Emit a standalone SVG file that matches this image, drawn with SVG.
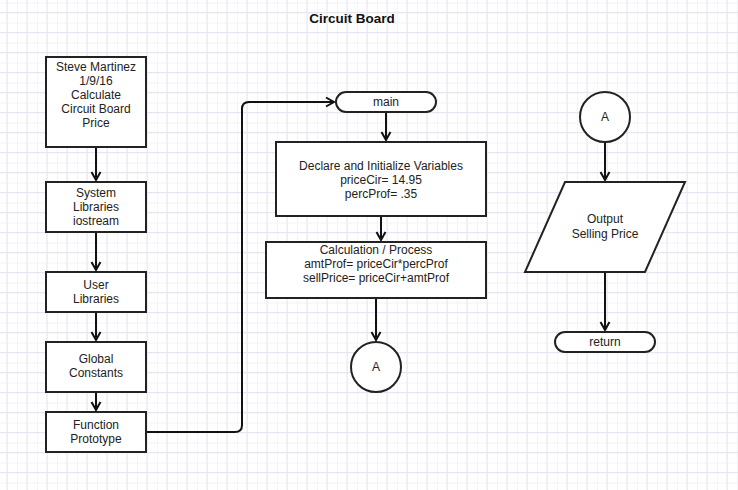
<svg xmlns="http://www.w3.org/2000/svg" width="738" height="490" viewBox="0 0 738 490">
<defs>
<pattern id="minor" width="10" height="10" patternUnits="userSpaceOnUse" x="7" y="2.5">
<path d="M0 0.5H10M0.5 0V10" fill="none" stroke="#f3f3fa" stroke-width="1"/>
</pattern>
<pattern id="major" width="20" height="20" patternUnits="userSpaceOnUse" x="6.5" y="12">
<path d="M0 0.5H20M0.5 0V20" fill="none" stroke="#e6e6f2" stroke-width="1"/>
</pattern>
<marker id="arr" viewBox="0 0 12 12" refX="10" refY="6" markerWidth="12" markerHeight="12" markerUnits="userSpaceOnUse" orient="auto">
<path d="M2 1.5L10 6L2 10.5" fill="none" stroke="#111" stroke-width="2"/>
</marker>
</defs>
<style>
.n{fill:#fff;stroke:#222;stroke-width:2}
.t{font-family:"Liberation Sans",Arial,sans-serif;font-size:12px;fill:#222;text-anchor:middle;dominant-baseline:central}
.c{fill:none;stroke:#111;stroke-width:2}
</style>
<rect width="738" height="490" fill="#fff"/>
<rect width="738" height="490" fill="url(#minor)"/>
<rect width="738" height="490" fill="url(#major)"/>
<text x="352" y="18" class="t" style="font-weight:bold;font-size:13.5px;fill:#111">Circuit Board</text>
<g id="connectors">
<path class="c" d="M96 147V180" marker-end="url(#arr)"/>
<path class="c" d="M96 232V270" marker-end="url(#arr)"/>
<path class="c" d="M96 312V340" marker-end="url(#arr)"/>
<path class="c" d="M96 392V410" marker-end="url(#arr)"/>
<path class="c" d="M146 432H235Q242 432 242 425V109Q242 102 249 102H334" marker-end="url(#arr)"/>
<path class="c" d="M386 112V140" marker-end="url(#arr)"/>
<path class="c" d="M381 216V240" marker-end="url(#arr)"/>
<path class="c" d="M376 298V340" marker-end="url(#arr)"/>
<path class="c" d="M605 142V180" marker-end="url(#arr)"/>
<path class="c" d="M605 272V330" marker-end="url(#arr)"/>
</g>
<g id="header">
<rect class="n" x="46" y="57" width="100" height="90"/>
<text class="t" x="96" y="67">Steve Martinez</text>
<text class="t" x="96" y="81">1/9/16</text>
<text class="t" x="96" y="95">Calculate</text>
<text class="t" x="96" y="109">Circuit Board</text>
<text class="t" x="96" y="123">Price</text>
</g>
<g id="syslib">
<rect class="n" x="46" y="182" width="100" height="50"/>
<text class="t" x="96" y="193">System</text>
<text class="t" x="96" y="207">Libraries</text>
<text class="t" x="96" y="221">iostream</text>
</g>
<g id="userlib">
<rect class="n" x="46" y="272" width="100" height="40"/>
<text class="t" x="96" y="285">User</text>
<text class="t" x="96" y="299">Libraries</text>
</g>
<g id="globals">
<rect class="n" x="46" y="342" width="100" height="50"/>
<text class="t" x="96" y="359">Global</text>
<text class="t" x="96" y="373">Constants</text>
</g>
<g id="proto">
<rect class="n" x="46" y="412" width="100" height="40"/>
<text class="t" x="96" y="425">Function</text>
<text class="t" x="96" y="439">Prototype</text>
</g>
<g id="main">
<rect class="n" x="336" y="92" width="100" height="20" rx="10"/>
<text class="t" x="386" y="102">main</text>
</g>
<g id="declare">
<rect class="n" x="276" y="142" width="210" height="74"/>
<text class="t" x="381" y="166">Declare and Initialize Variables</text>
<text class="t" x="381" y="180">priceCir= 14.95</text>
<text class="t" x="381" y="194">percProf= .35</text>
</g>
<g id="calc">
<rect class="n" x="266" y="242" width="220" height="56"/>
<text class="t" x="376" y="250">Calculation / Process</text>
<text class="t" x="376" y="264">amtProf= priceCir*percProf</text>
<text class="t" x="376" y="278">sellPrice= priceCir+amtProf</text>
</g>
<g id="connA1">
<circle class="n" cx="376" cy="367" r="25"/>
<text class="t" x="376" y="367">A</text>
</g>
<g id="connA2">
<circle class="n" cx="605" cy="117" r="25"/>
<text class="t" x="605" y="117">A</text>
</g>
<g id="output">
<path class="n" d="M565 182H685L645 272H525Z"/>
<text class="t" x="605" y="219">Output</text>
<text class="t" x="605" y="234">Selling Price</text>
</g>
<g id="return">
<rect class="n" x="555" y="332" width="100" height="20" rx="10"/>
<text class="t" x="605" y="342">return</text>
</g>
</svg>
